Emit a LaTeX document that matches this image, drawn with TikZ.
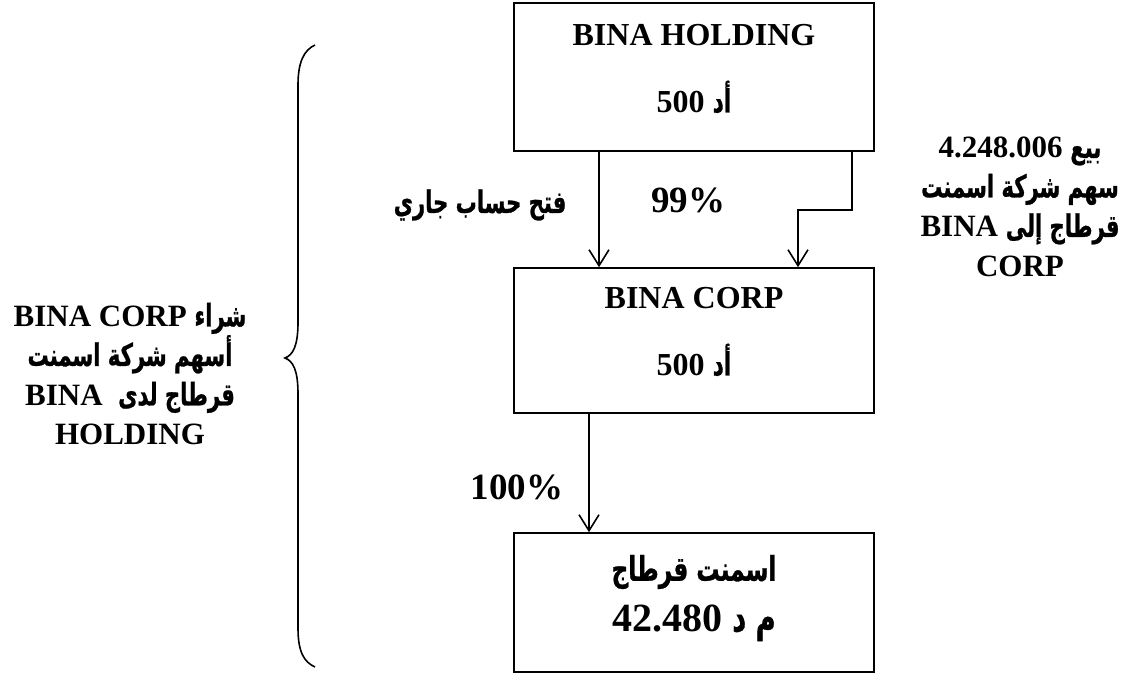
\documentclass[tikz,border=0pt]{standalone}
\usepackage{fontspec}
\setmainfont{Liberation Serif}
\newfontfamily\arabicfont[Script=Arabic,Scale=1.0,FakeStretch=0.68,BoldFeatures={FakeBold=0.8}]{DejaVu Sans}
\TeXXeTstate=1
\usetikzlibrary{arrows.meta}
\newcommand\artxt[1]{{\arabicfont\bfseries #1}}
\begin{document}
\begin{tikzpicture}[x=1pt,y=-1pt,
  box/.style={draw, line width=1.6pt, minimum width=360pt, inner sep=0pt},
  txt/.style={font=\fontsize{31}{39.5}\selectfont\bfseries, align=center, inner sep=0pt},
  boxtxt/.style={font=\fontsize{32}{38}\selectfont\bfseries, inner sep=0pt},
  midtxt/.style={font=\fontsize{34}{40}\selectfont\bfseries, inner sep=0pt},
  bigtxt/.style={font=\fontsize{40}{46}\selectfont\bfseries, inner sep=0pt},
  pct/.style={font=\fontsize{37}{42}\selectfont\bfseries, inner sep=0pt},
  arr/.style={line width=1.6pt, -{Straight Barb[length=16pt,width=20pt]}},
  conn/.style={line width=1.6pt}]
\useasboundingbox (0,0) rectangle (1127,675);
% boxes
\node[box, minimum height=148pt] (b1) at (694,77) {};
\node[box, minimum height=145pt] (b2) at (694,340.5) {};
\node[box, minimum height=139pt] (b3) at (694,602.5) {};
% box texts
\node[boxtxt] (t1a) at (694,35) {BINA HOLDING};
\node[boxtxt] (t1b) at (694,97) {\beginR\artxt{أد} \beginL 500\endL\endR};
\node[boxtxt] (t2a) at (694,298) {BINA CORP};
\node[boxtxt] (t2b) at (694,360) {\beginR\artxt{أد} \beginL 500\endL\endR};
\node[midtxt] (t3a) at (694,572) {\beginR\artxt{اسمنت قرطاج}\endR};
\node[bigtxt] (t3b) at (694,623) {\beginR\artxt{م د} \beginL 42.480\endL\endR};
% connectors
\coordinate (xa) at (599,0);
\coordinate (xb) at (852,0);
\coordinate (xc) at (798,0);
\coordinate (xd) at (589,0);
\coordinate (bend) at (852,210);
\coordinate (bend2) at (798,210);
\draw[arr] (b1.south -| xa) -- (b2.north -| xa);
\draw[arr] (b1.south -| xb) -- (bend) -- (bend2) -- (b2.north -| xc);
\draw[arr] (b2.south -| xd) -- (b3.north -| xd);
% labels
\node[pct] (p99) at (688,200) {99\%};
\node[pct] (p100) at (517,487) {100\%};
\node[txt] (lfath) at (480,205) {\beginR\artxt{فتح حساب جاري}\endR};
\node[txt] (lright) at (1020,207) {%
  \beginR\artxt{بيع} \beginL 4.248.006\endL\endR\\
  \beginR\artxt{سهم شركة اسمنت}\endR\\
  \beginR\artxt{قرطاج إلى} \beginL BINA\endL\endR\\
  CORP};
\node[txt] (lleft) at (130,374) {%
  \beginR\artxt{شراء} \beginL BINA CORP\endL\endR\\
  \beginR\artxt{أسهم شركة اسمنت}\endR\\
  \beginR\artxt{قرطاج لدى}\ \ \beginL BINA\endL\endR\\
  HOLDING};
% brace
\draw[conn] (315,45) .. controls (304,50) and (298,62) .. (298,85)
  -- (298,322) .. controls (298,346) and (293,355) .. (285,358)
  .. controls (293,361) and (298,370) .. (298,394)
  -- (298,628) .. controls (298,652) and (304,662) .. (315,667);
\end{tikzpicture}
\end{document}
